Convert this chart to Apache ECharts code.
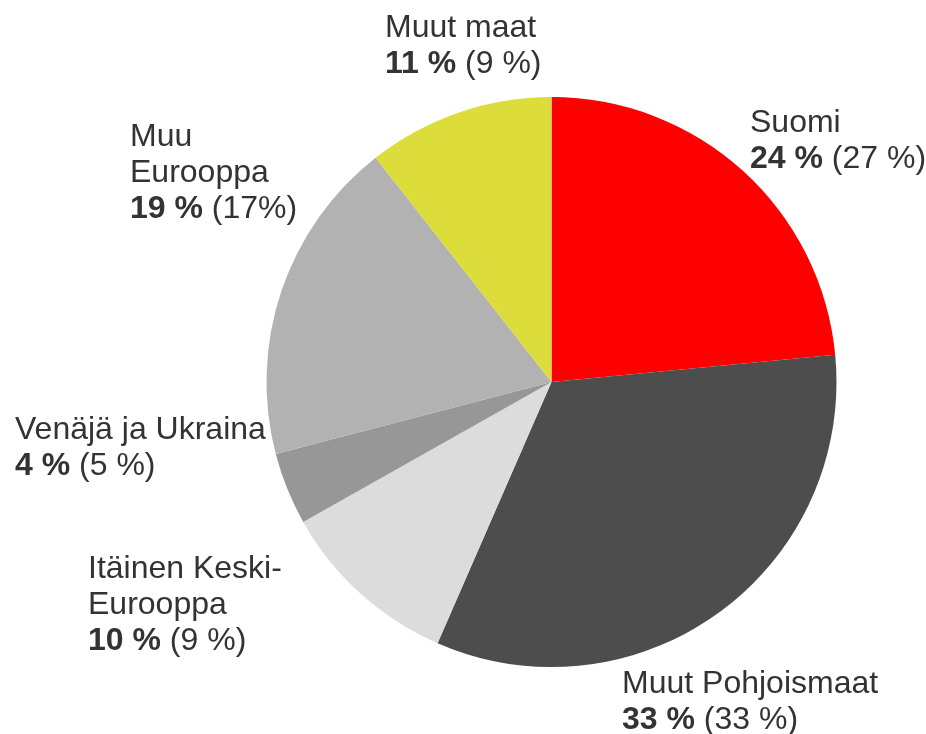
<!DOCTYPE html>
<html>
<head>
<meta charset="utf-8">
<script src="https://cdn.jsdelivr.net/npm/echarts@6/dist/echarts.min.js"></script>
<style>
html,body{margin:0;padding:0;background:#fff;}
#main{width:926px;height:734px;}
</style>
</head>
<body>
<div id="main"></div>
<script>
// Data
var categories = ['Suomi', 'Muut Pohjoismaat', 'Itäinen Keski-\nEurooppa', 'Venäjä ja Ukraina', 'Muu\nEurooppa', 'Muut maat'];
var shares = [23.5, 33.1, 10.3, 4.1, 18.5, 10.6];
var currentLabels = ['24 %', '33 %', '10 %', '4 %', '19 %', '11 %'];
var previousLabels = ['(27 %)', '(33 %)', '(9 %)', '(5 %)', '(17%)', '(9 %)'];
var colors = ['#ff0000', '#4d4d4d', '#dcdcdc', '#979797', '#b2b2b2', '#dcdc3b'];

// label anchor positions (left, top)
var labelPos = [
  [750, 105],
  [622, 666],
  [88, 551],
  [15, 412],
  [130, 119],
  [385, 10]
];

var chart = echarts.init(document.getElementById('main'));
chart.setOption({
  animation: false,
  backgroundColor: '#ffffff',
  series: [{
    type: 'pie',
    center: [551.5, 382],
    radius: 285,
    startAngle: 90,
    clockwise: true,
    silent: true,
    data: categories.map(function (c, i) {
      return { name: c, value: shares[i], itemStyle: { color: colors[i] } };
    }),
    label: {
      show: true,
      position: 'outside',
      overflow: 'none',
      edgeDistance: 0,
      formatter: function (p) {
        var i = p.dataIndex;
        return '{n|' + categories[i] + '}\n{b|' + currentLabels[i] + '}{n| ' + previousLabels[i] + '}';
      },
      rich: {
        n: { fontFamily: 'Liberation Sans, Arial, sans-serif', fontSize: 32, color: '#333333', lineHeight: 36 },
        b: { fontFamily: 'Liberation Sans, Arial, sans-serif', fontSize: 32, fontWeight: 'bold', color: '#333333', lineHeight: 36 }
      },
      align: 'left'
    },
    labelLine: { show: false },
    labelLayout: function (params) {
      var i = params.dataIndex;
      return { x: labelPos[i][0], y: labelPos[i][1], align: 'left', verticalAlign: 'top', width: 400 };
    }
  }]
});
</script>
</body>
</html>
